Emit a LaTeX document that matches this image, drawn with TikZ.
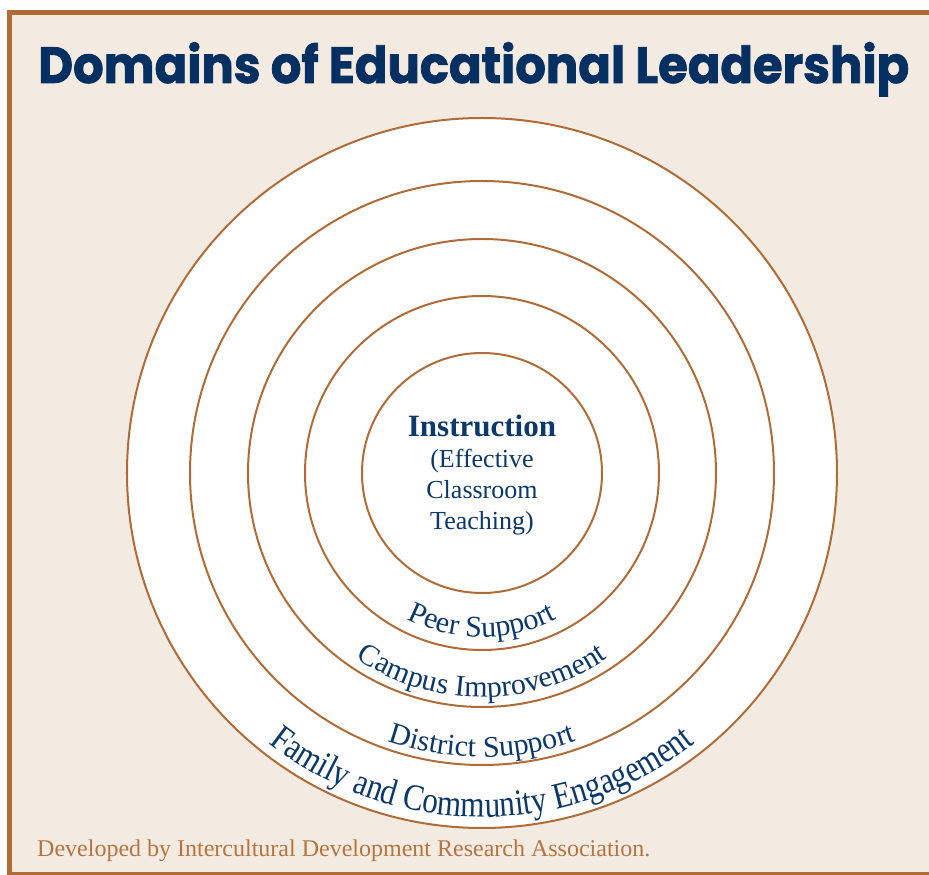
\documentclass[tikz,border=0pt]{standalone}
\usepackage{fontspec}
\setmainfont{Liberation Serif}
\newfontfamily\headfont{Poppins}[BoldFeatures={FakeBold=1.6}]
\newfontfamily\ringfont{Liberation Serif}
\newfontfamily\ringfontnarrow[FakeStretch=0.84]{Liberation Serif}
\usetikzlibrary{decorations.text}

\definecolor{idrabrown}{RGB}{176, 108, 56}
\definecolor{idrapaper}{RGB}{243, 235, 225}
\definecolor{idranavy}{RGB}{6, 48, 98}
\definecolor{ringblue}{RGB}{12, 56, 106}
\definecolor{footbrown}{RGB}{181, 116, 64}

\tikzset{
  ring/.style={draw=idrabrown, line width=2pt},
  ringlabel/.style={decorate, decoration={text along path, text align=center,
                    text color=ringblue, text={#1}}},
}

\begin{document}
\begin{tikzpicture}[x=1pt, y=1pt]
    % origin sits at the centre of the rings
    \useasboundingbox (-482,-402) rectangle (447,473);
    \fill[white] (-482,-402) rectangle (447,473);
    \draw[idrabrown, fill=idrapaper, line width=5pt] (-472.5,460.5) rectangle (495,-401.5);

    \node[anchor=base west, inner sep=0pt, text=idranavy] (heading) at (-444,390) {
      \resizebox{871pt}{\height}{\headfont\bfseries\fontsize{51}{51}\selectfont Domains of Educational Leadership}
    };

    % the five domains
    \fill[white] (0,0) circle (355pt);
    \foreach \r in {355, 292, 234, 177, 120}
      \draw[ring] (0,0) circle (\r pt);

    \node[text=ringblue, align=center, inner sep=0pt, anchor=north,
          font=\fontsize{26}{31}\selectfont] (core) at (0,58) {
      \textbf{\fontsize{31}{31}\selectfont Instruction}\\
      (Effective\\
      Classroom\\
      Teaching)
    };

    \path[ringlabel={|\ringfont\fontsize{30}{30}\selectfont|Peer Support}]
      (200:164pt) arc[start angle=200, end angle=340, radius=164pt];
    \path[ringlabel={|\ringfont\fontsize{30}{30}\selectfont|Campus Improvement}]
      (200:224pt) arc[start angle=200, end angle=340, radius=224pt];
    \path[ringlabel={|\ringfont\fontsize{30}{30}\selectfont|District Support}]
      (200:284pt) arc[start angle=200, end angle=340, radius=284pt];
    \path[ringlabel={|\ringfontnarrow\fontsize{37}{37}\selectfont|Family and Community Engagement}]
      (200:344pt) arc[start angle=200, end angle=340, radius=344pt];

    \node[anchor=base west, inner sep=0pt, text=footbrown,
          font=\fontsize{24}{24}\selectfont] (credit) at (-445,-383)
      {Developed by Intercultural Development Research Association.};
\end{tikzpicture}
\end{document}
